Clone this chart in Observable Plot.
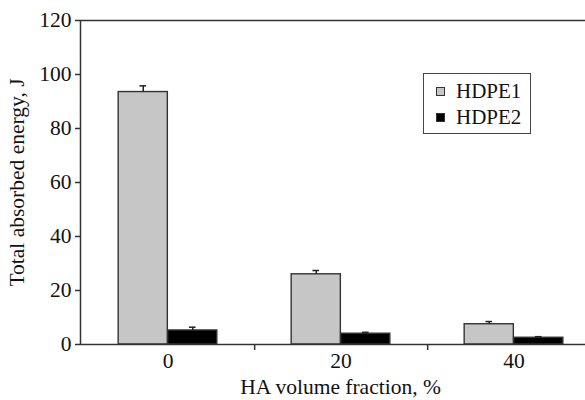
<!DOCTYPE html>
<html>
<head>
<meta charset="utf-8">
<script src="https://cdn.jsdelivr.net/npm/d3@7"></script>
<script src="https://cdn.jsdelivr.net/npm/@observablehq/plot@0.6"></script>
<style>
  html, body { margin: 0; padding: 0; background: #fff; overflow: hidden; }
  #wrap { position: relative; width: 585px; height: 400px; }
  #legend {
    position: absolute; left: 423px; top: 73px; width: 106px; height: 59px;
    border: 1.5px solid #444; background: #fff;
    font-family: "Liberation Serif", "Times New Roman", serif; font-size: 21px; color: #111;
  }
  .item { position: absolute; left: 12px; display: flex; align-items: center; line-height: 24px; }
  .sw { width: 7px; height: 7px; border: 1px solid #333; margin-right: 11px; }
</style>
</head>
<body>
<div id="wrap">
  <div id="chart"></div>
  <div id="legend">
    <div class="item" style="top:5px"><span class="sw" style="background:#c6c6c6"></span><span>HDPE1</span></div>
    <div class="item" style="top:31px"><span class="sw" style="background:#000"></span><span>HDPE2</span></div>
  </div>
</div>
<script>
const groups = ["0", "20", "40"];
const hdpe1 = [93.5, 26.0, 7.5];
const hdpe1Err = [2.3, 1.4, 1.0];
const hdpe2 = [5.2, 4.0, 2.5];
const hdpe2Err = [1.2, 0.5, 0.4];
const yTicks = [0, 20, 40, 60, 80, 100, 120];

const s1 = groups.map((g, i) => ({group: g, value: hdpe1[i], err: hdpe1Err[i]}));
const s2 = groups.map((g, i) => ({group: g, value: hdpe2[i], err: hdpe2Err[i]}));

const width = 585, height = 400;
const marginLeft = 80, marginRight = -15, marginTop = 20, marginBottom = 56;
const step = (width - marginLeft - marginRight) / groups.length;
const barW = 49.5;
const half = step / 2;

const barStyle = {stroke: "#333", strokeWidth: 1.4};

const chart = Plot.plot({
  width, height, marginLeft, marginRight, marginTop, marginBottom,
  style: {fontFamily: "'Liberation Serif', 'Times New Roman', serif", fontSize: "21.5px", color: "#111", background: "#fff"},
  x: {type: "band", domain: groups, padding: 0, label: null},
  y: {domain: [0, 120], label: null},
  marks: [
    Plot.barY(s1, {x: "group", y: "value", fill: "#c6c6c6", ...barStyle, insetLeft: half - barW, insetRight: half}),
    Plot.barY(s2, {x: "group", y: "value", fill: "#000", ...barStyle, insetLeft: half, insetRight: half - barW}),
    Plot.ruleX(s1, {x: "group", y1: "value", y2: d => d.value + d.err, dx: -barW / 2, stroke: "#222", strokeWidth: 1.5}),
    Plot.tickY(s1, {x: "group", y: d => d.value + d.err, dx: -barW / 2, insetLeft: half - 3.5, insetRight: half - 3.5, stroke: "#222", strokeWidth: 1.5}),
    Plot.ruleX(s2, {x: "group", y1: "value", y2: d => d.value + d.err, dx: barW / 2, stroke: "#222", strokeWidth: 1.5}),
    Plot.tickY(s2, {x: "group", y: d => d.value + d.err, dx: barW / 2, insetLeft: half - 3.5, insetRight: half - 3.5, stroke: "#222", strokeWidth: 1.5}),
    Plot.frame({stroke: "#333", strokeWidth: 1.5}),
    Plot.axisY({ticks: yTicks, tickSize: 5, tickPadding: 4, stroke: "#333", strokeWidth: 1.5,
      label: "Total absorbed energy, J", labelAnchor: "center", labelOffset: 72, labelArrow: "none"}),
    Plot.axisX({tickSize: 6, dx: half, text: null, stroke: "#333", strokeWidth: 1.5, label: null}),
    Plot.axisX({tickSize: 0, tickPadding: 8,
      label: "HA volume fraction, %", labelAnchor: "center", labelOffset: 49, labelArrow: "none"})
  ]
});
document.getElementById("chart").appendChild(chart);
</script>
</body>
</html>
